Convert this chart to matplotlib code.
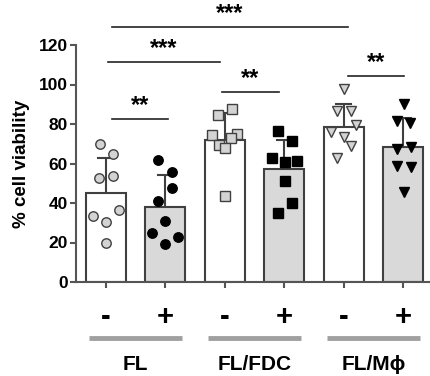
import matplotlib
matplotlib.use("Agg")
import matplotlib.pyplot as plt
import matplotlib.transforms as mtransforms
import numpy as np

plt.rcParams['font.family'] = ['Liberation Sans', 'DejaVu Sans']

# ---- data ----
conditions = ["-", "+", "-", "+", "-", "+"]
groups = ["FL", "FL/FDC", "FL/M\u03d5"]
means = [45, 38, 72, 57, 78.5, 68.5]
sds = [17.8, 16, 13.5, 15, 11.5, 14.5]

pts_fl_minus = [69.9, 64.7, 52.7, 53.8, 33.4, 30.5, 36.5, 19.9]
pts_fl_plus = [61.8, 55.5, 47.4, 41.0, 30.9, 24.7, 22.9, 19.2]
pts_fdc_minus = [87.6, 84.6, 74.4, 74.8, 73.1, 69.4, 68.0, 43.5]
pts_fdc_plus = [76.3, 71.5, 62.9, 60.6, 61.4, 51.3, 39.8, 34.8]
pts_mf_minus = [97.7, 86.7, 86.7, 79.5, 76.1, 73.3, 69.0, 62.6]
pts_mf_plus = [90.1, 81.7, 80.7, 67.2, 68.5, 58.7, 58.1, 45.7]

jit_fl_minus = [-0.10, 0.13, -0.12, 0.12, -0.22, 0.0, 0.22, 0.0]
jit_fl_plus = [-0.12, 0.12, 0.12, -0.12, 0.0, -0.22, 0.22, 0.0]
jit_fdc_minus = [0.12, -0.11, -0.21, 0.21, 0.10, -0.10, 0.0, 0.0]
jit_fdc_plus = [-0.11, 0.13, -0.21, 0.02, 0.22, 0.02, 0.13, -0.11]
jit_mf_minus = [0.0, -0.12, 0.12, 0.21, -0.22, 0.0, 0.12, -0.12]
jit_mf_plus = [0.02, -0.11, 0.12, -0.11, 0.13, -0.11, 0.13, 0.02]

points = [pts_fl_minus, pts_fl_plus, pts_fdc_minus, pts_fdc_plus, pts_mf_minus, pts_mf_plus]
jitters = [jit_fl_minus, jit_fl_plus, jit_fdc_minus, jit_fdc_plus, jit_mf_minus, jit_mf_plus]

# significance brackets
sig_x1 = [0.1, 0.03, 1.95, 0.1, 4.07]
sig_x2 = [4.07, 1.92, 2.91, 1.05, 5.01]
sig_y = [129.3, 111.2, 96.0, 82.4, 104.5]
sig_lab = ["***", "***", "**", "**", "**"]

yticks = [0, 20, 40, 60, 80, 100, 120]

# ---- styles ----
bar_colors = ["white", "#d9d9d9"] * 3
markers = ["o", "o", "s", "s", "v", "v"]
mfaces = ["#d3d3d3", "black"] * 3
msizes = [6.8, 6.8, 6.5, 6.5, 7.5, 7.5]
edge = "#404040"

fig = plt.figure(figsize=(4.30, 3.76), dpi=100)
ax = fig.add_axes([76/430, 94/376, 354/430, 237/376])

x = np.arange(len(means))
ax.bar(x, means, width=0.67, color=bar_colors, edgecolor=edge, linewidth=1.5, zorder=1)
for xi, m, s in zip(x, means, sds):
    ax.plot([xi, xi], [m, m + s], color=edge, lw=1.5, zorder=2, solid_capstyle='butt')
    ax.plot([xi - 0.13, xi + 0.13], [m + s, m + s], color=edge, lw=1.5, zorder=2)

for xi, p, j, mk, fc, ms in zip(x, points, jitters, markers, mfaces, msizes):
    ax.plot(np.array(j) + xi, p, linestyle='none', marker=mk, markersize=ms,
            markerfacecolor=fc, markeredgecolor=edge if fc != "black" else "black",
            markeredgewidth=1.0, zorder=3, clip_on=False)

for x1, x2, y, lab in zip(sig_x1, sig_x2, sig_y, sig_lab):
    ax.plot([x1, x2], [y, y], color="#222222", lw=1.2, clip_on=False, zorder=4)
    ax.text((x1 + x2) / 2, y + 1.0, lab, ha='center', va='bottom', fontsize=17,
            fontweight='bold', clip_on=False)

ax.set_xlim(-0.5, 5.45)
ax.set_ylim(0, 120)
ax.set_yticks(yticks)
ax.set_yticklabels([str(t) for t in yticks], fontsize=12.5, fontweight='bold')
ax.set_ylabel("% cell viability", fontsize=13.5, fontweight='bold', labelpad=6)
ax.set_xticks(x)
ax.set_xticklabels([])
for s in ['top', 'right']:
    ax.spines[s].set_visible(False)
for s in ['left', 'bottom']:
    ax.spines[s].set_color("#555555")
    ax.spines[s].set_linewidth(1.5)
ax.tick_params(axis='both', color="#555555", width=1.5, length=4)
ax.tick_params(axis='y', pad=2)

trans = mtransforms.blended_transform_factory(ax.transData, fig.transFigure)
for xi, c in zip(x, conditions):
    ax.text(xi, 1 - 317/376, c, transform=trans, ha='center', va='center',
            fontsize=21, fontweight='bold')
for gi, g in enumerate(groups):
    cx = 2 * gi + 0.5
    ax.plot([cx - 0.78, cx + 0.78], [1 - 337.5/376] * 2, transform=trans, color="#a0a0a0",
            lw=3.5, clip_on=False, solid_capstyle='butt')
    ax.text(cx, 1 - 364/376, g, transform=trans, ha='center', va='center',
            fontsize=15, fontweight='bold')

fig.savefig("out.png", dpi=100)
